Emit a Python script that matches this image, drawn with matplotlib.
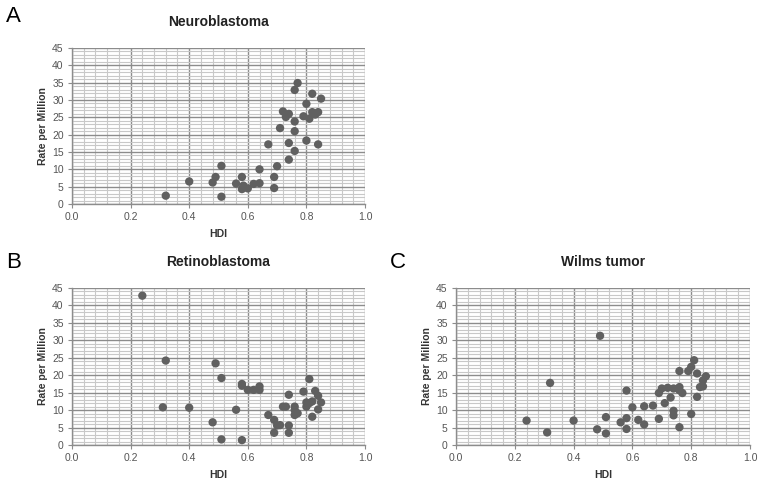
import matplotlib
matplotlib.use("Agg")
import matplotlib.pyplot as plt
from matplotlib.ticker import MultipleLocator, FormatStrFormatter

plt.rcParams['font.family'] = ['Liberation Sans', 'DejaVu Sans']

# Neuroblastoma
nb_hdi = [0.32, 0.40, 0.48, 0.49, 0.51, 0.51, 0.56, 0.58, 0.58, 0.585, 0.60, 0.62, 0.64, 0.64,
          0.67, 0.69, 0.69, 0.70, 0.71, 0.72, 0.73, 0.74, 0.74, 0.74, 0.76, 0.76, 0.76, 0.76,
          0.77, 0.79, 0.80, 0.80, 0.81, 0.82, 0.82, 0.83, 0.84, 0.84, 0.85]
nb_rate = [2.4, 6.5, 6.2, 7.8, 11.0, 2.1, 5.9, 7.8, 4.3, 5.3, 4.5, 5.8, 6.0, 10.0,
           17.2, 7.8, 4.6, 10.9, 21.9, 26.7, 25.1, 26.0, 17.6, 12.8, 15.3, 21.0, 23.8, 32.9,
           34.9, 25.3, 28.9, 18.3, 24.6, 31.8, 26.5, 25.8, 26.5, 17.2, 30.4]

# Retinoblastoma
rb_hdi = [0.24, 0.32, 0.31, 0.40, 0.48, 0.49, 0.51, 0.51, 0.56, 0.58, 0.58, 0.58, 0.60, 0.62,
          0.64, 0.64, 0.67, 0.69, 0.69, 0.70, 0.71, 0.72, 0.73, 0.74, 0.74, 0.74, 0.76, 0.76,
          0.76, 0.77, 0.79, 0.80, 0.80, 0.81, 0.81, 0.82, 0.82, 0.83, 0.84, 0.84, 0.85]
rb_rate = [42.8, 24.2, 10.8, 10.7, 6.5, 23.4, 19.2, 1.6, 10.1, 17.5, 17.0, 1.4, 15.8, 15.8,
           16.8, 15.8, 8.6, 7.2, 3.5, 5.6, 5.7, 11.0, 11.0, 14.4, 5.6, 3.5, 11.0, 10.0,
           8.6, 9.1, 15.3, 11.0, 12.2, 18.9, 12.0, 8.1, 12.5, 15.5, 14.1, 10.2, 12.2]

# Wilms tumor
wt_hdi = [0.24, 0.31, 0.32, 0.40, 0.48, 0.49, 0.51, 0.51, 0.56, 0.58, 0.58, 0.58, 0.60, 0.62,
          0.64, 0.64, 0.67, 0.69, 0.69, 0.70, 0.71, 0.72, 0.73, 0.74, 0.74, 0.74, 0.76, 0.76,
          0.76, 0.76, 0.77, 0.79, 0.80, 0.80, 0.81, 0.82, 0.82, 0.83, 0.84, 0.84, 0.85]
wt_rate = [7.0, 3.6, 17.8, 7.0, 4.5, 31.3, 3.3, 8.0, 6.5, 15.6, 7.7, 4.6, 10.8, 7.2,
           11.1, 5.9, 11.3, 7.5, 14.9, 16.2, 12.0, 16.4, 13.6, 16.2, 9.8, 8.5, 16.6, 15.7,
           21.2, 5.1, 14.9, 21.2, 8.9, 22.4, 24.3, 20.5, 13.8, 16.6, 16.8, 18.5, 19.7]

titles = ["Neuroblastoma", "Retinoblastoma", "Wilms tumor"]
letters = ["A", "B", "C"]
x_label = "HDI"
y_label = "Rate per Million"

fig = plt.figure(figsize=(7.63, 4.83), dpi=100)
W, H = 763, 483

def px_axes(l, t, r, b):
    return fig.add_axes([l / W, 1 - b / H, (r - l) / W, (b - t) / H])

panels = [
    (px_axes(72, 48, 365, 204), nb_hdi, nb_rate),
    (px_axes(72, 288, 365, 445), rb_hdi, rb_rate),
    (px_axes(456, 288, 750, 445), wt_hdi, wt_rate),
]

for (ax, xs, ys), title in zip(panels, titles):
    ax.set_xlim(0, 1.0)
    ax.set_ylim(0, 45)
    ax.xaxis.set_major_locator(MultipleLocator(0.2))
    ax.xaxis.set_minor_locator(MultipleLocator(0.04))
    ax.yaxis.set_major_locator(MultipleLocator(5))
    ax.yaxis.set_minor_locator(MultipleLocator(1))
    ax.xaxis.set_major_formatter(FormatStrFormatter('%.1f'))
    ax.grid(which='minor', color='#c8c8c8', linewidth=0.8)
    ax.grid(which='major', color='#8c8c8c', linewidth=1.0)
    ax.set_axisbelow(True)
    for s in ['top', 'right']:
        ax.spines[s].set_visible(False)
    for s in ['left', 'bottom']:
        ax.spines[s].set_color('#8c8c8c')
        ax.spines[s].set_linewidth(1.0)
    ax.tick_params(which='major', length=3, color='#8c8c8c', labelsize=7.5, labelcolor='#555555', pad=3)
    ax.tick_params(which='minor', length=0)
    ax.scatter(xs, ys, s=36, color='#606060', edgecolors='none', zorder=3, clip_on=False)
    ax.set_xlabel(x_label, fontsize=7.5, fontweight='bold', color='#333333', labelpad=5)
    ax.set_ylabel(y_label, fontsize=7.5, fontweight='bold', color='#333333', labelpad=3)
    ax.set_title(title, fontsize=10, fontweight='bold', color='#222222', pad=16)

fig.text(6 / W, 1 - 16 / H, "A", fontsize=16, va='center', ha='left')
fig.text(6 / W, 1 - 262 / H, "B", fontsize=16, va='center', ha='left')
fig.text(390 / W, 1 - 262 / H, "C", fontsize=16, va='center', ha='left')

fig.savefig("out.png", dpi=100)
